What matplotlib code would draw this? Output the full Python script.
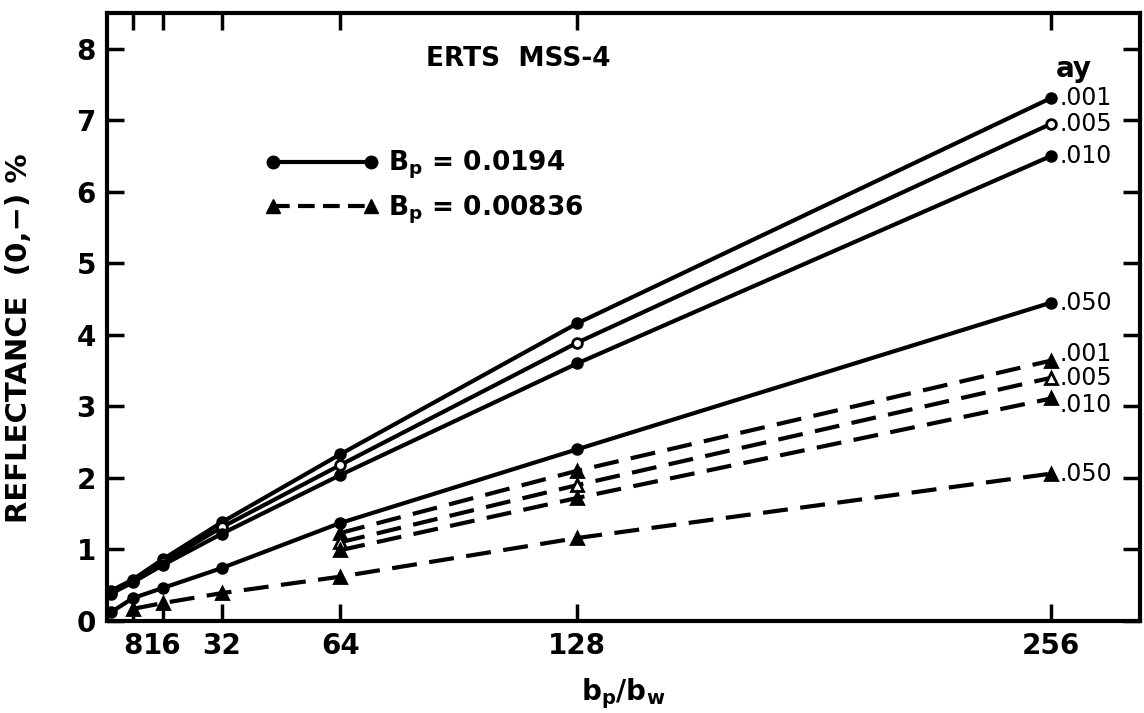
import numpy as np
import matplotlib
matplotlib.use('Agg')
import matplotlib.pyplot as plt
from matplotlib.lines import Line2D

# b_p / b_w values
x_solid = [2, 8, 16, 32, 64, 128, 256]
x_dash_lo = [8, 16, 32, 64, 128, 256]
x_dash_hi = [64, 128, 256]

# B_p = 0.0194 (solid)
s001 = [0.42, 0.58, 0.86, 1.38, 2.33, 4.16, 7.31]
s005 = [0.40, 0.56, 0.82, 1.31, 2.18, 3.89, 6.95]
s010 = [0.38, 0.54, 0.78, 1.22, 2.04, 3.60, 6.50]
s050 = [0.12, 0.32, 0.46, 0.74, 1.37, 2.40, 4.45]

# B_p = 0.00836 (dashed)
d001 = [1.23, 2.10, 3.64]
d005 = [1.10, 1.90, 3.40]
d010 = [0.99, 1.72, 3.11]
d050 = [0.17, 0.25, 0.39, 0.62, 1.16, 2.06]

ay_labels = ['.001', '.005', '.010', '.050']

plt.rcParams['font.family'] = 'DejaVu Sans'
fig = plt.figure(figsize=(11.44, 7.13), dpi=100)
ax = fig.add_axes([0.0935, 0.129, 0.903, 0.853])

lw = 3
ms = 7
solid = [(s001, 'black'), (s005, 'white'), (s010, 'black'), (s050, 'black')]
for (ys, fc), lab in zip(solid, ay_labels):
    ax.plot(x_solid, ys, '-', color='black', lw=lw, marker='o', ms=ms,
            mfc=fc, mec='black', mew=2)
    ax.annotate(lab, (256, ys[-1]), xytext=(6, 0), textcoords='offset points',
                va='center', ha='left', fontsize=17)

dashed = [(x_dash_hi, d001, 'black', 5), (x_dash_hi, d005, 'white', 0),
          (x_dash_hi, d010, 'black', -5), (x_dash_lo, d050, 'black', 0)]
for (xs, ys, fc, dy), lab in zip(dashed, ay_labels):
    ax.plot(xs, ys, color='black', lw=lw, ls=(0, (6, 3)), marker='^', ms=ms + 2,
            mfc=fc, mec='black', mew=2)
    ax.annotate(lab, (256, ys[-1]), xytext=(6, dy), textcoords='offset points',
                va='center', ha='left', fontsize=17)

ax.text(262, 7.72, 'ay', fontsize=20, fontweight='bold', ha='center', va='center')
ax.text(112, 7.85, 'ERTS  MSS-4', fontsize=19, fontweight='bold', ha='center', va='center')

handles = [Line2D([], [], color='black', lw=lw, marker='o', ms=ms + 2),
           Line2D([], [], color='black', lw=lw, ls=(0, (4, 2)), marker='^', ms=ms + 3)]
ax.legend(handles, [r'B$_\mathbf{p}$ = 0.0194', r'B$_\mathbf{p}$ = 0.00836'],
          loc='upper left', bbox_to_anchor=(0.13, 0.815), numpoints=2,
          handlelength=4.3, frameon=False, prop={'size': 19, 'weight': 'bold'},
          labelspacing=0.45, handletextpad=0.35)

ax.set_xlim(1, 280)
ax.set_ylim(0, 8.5)
ax.set_xticks([8, 16, 32, 64, 128, 256])
ax.set_yticks(range(0, 9))
ax.tick_params(direction='in', length=12, width=2.5, top=True, right=True,
               labelsize=20, pad=8)
for t in ax.get_xticklabels() + ax.get_yticklabels():
    t.set_fontweight('bold')
for sp in ax.spines.values():
    sp.set_linewidth(3)

ax.set_xlabel(r'b$_\mathbf{p}$/b$_\mathbf{w}$', fontsize=20, fontweight='bold', labelpad=12)
ax.set_ylabel('REFLECTANCE  (0,−) %', fontsize=21, fontweight='bold')
ax.yaxis.set_label_coords(-0.072, 0.465)

plt.savefig('out.png', dpi=100)
